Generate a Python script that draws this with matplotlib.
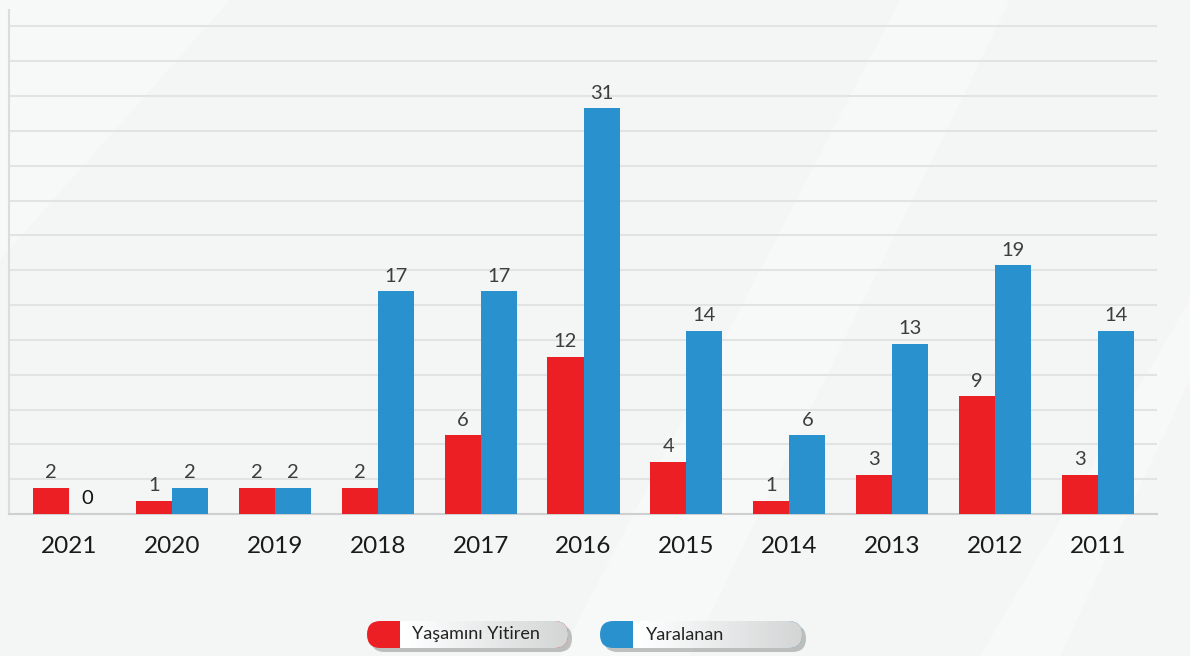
import numpy as np
import matplotlib
matplotlib.use("Agg")
import matplotlib.pyplot as plt
from matplotlib.patches import FancyBboxPatch, Polygon

plt.rcParams['font.family'] = ['Lato', 'DejaVu Sans']

years = ['2021', '2020', '2019', '2018', '2017', '2016', '2015', '2014', '2013', '2012', '2011']
dead = [2, 1, 2, 2, 6, 12, 4, 1, 3, 9, 3]
injured = [0, 2, 2, 17, 17, 31, 14, 6, 13, 19, 14]
legend_labels = ['Yaşamını Yitiren', 'Yaralanan']

red = '#ec2024'
blue = '#2a91cf'

W, H = 1190, 656
fig = plt.figure(figsize=(W / 100, H / 100), dpi=100)
fig.patch.set_facecolor('#f4f5f5')

# background layer in pixel coords
bg = fig.add_axes([0, 0, 1, 1], zorder=0)
bg.set_xlim(0, W)
bg.set_ylim(H, 0)
bg.axis('off')
bands = [
    [(0, 0), (230, 0), (0, 260)],
    [(560, 656), (900, 0), (1010, 0), (690, 656)],
    [(980, 656), (1190, 300), (1190, 380), (1060, 656)],
]
for b in bands:
    bg.add_patch(Polygon(b, closed=True, facecolor='white', alpha=0.3, lw=0))

# legend pills
def pill(x0, x1, y0, y1, color, label, tx):
    h = y1 - y0
    shadow = FancyBboxPatch((x0 + 4, y0 + 4), x1 - x0, h, boxstyle='round,pad=0,rounding_size=%g' % (h / 2),
                            facecolor='#555555', alpha=0.35, lw=0, zorder=1)
    bg.add_patch(shadow)
    body = FancyBboxPatch((x0, y0), x1 - x0, h, boxstyle='round,pad=0,rounding_size=%g' % (h / 2),
                          facecolor=color, lw=0, zorder=2)
    bg.add_patch(body)
    grad = np.linspace(1.0, 0.83, 64).reshape(1, -1)
    grad = np.dstack([grad, grad * 1.01, grad * 1.01]).clip(0, 1)
    im = bg.imshow(grad, extent=[x0 + 33, x1, y1, y0], aspect='auto', zorder=3, interpolation='bilinear')
    im.set_clip_path(body)
    bg.text(tx, (y0 + y1) / 2, label, fontsize=13, color='#222222', va='center', ha='left', zorder=4)

pill(367, 568, 621, 648, red, legend_labels[0], 412)
pill(600, 802, 621, 648, blue, legend_labels[1], 646)

# main chart
ax = fig.add_axes([9 / W, 1 - 514 / H, (1157 - 9) / W, (514 - 10) / H], zorder=2)
ax.patch.set_alpha(0)
x = np.arange(len(years))
w = 0.35
ax.bar(x - w / 2, dead, w, color=red, zorder=3)
ax.bar(x + w / 2, injured, w, color=blue, zorder=3)

for xi, v in zip(x, dead):
    ax.text(xi - w / 2, v + 0.5, str(v), ha='center', va='bottom', fontsize=14.5, color='#3d3d3d')
for xi, v in zip(x, injured):
    c = '#111111' if v == 0 else '#3d3d3d'
    ax.text(xi + w / 2, v + 0.5, str(v), ha='center', va='bottom', fontsize=14.5, color=c)

ax.set_xlim(-0.583, 10.573)
ax.set_ylim(0, 38.5)
for gy in np.arange(2.66, 38, 2.66):
    ax.axhline(gy, color='#e2e3e3', lw=1.5, zorder=1)

ax.set_xticks(x)
ax.set_xticklabels(years, fontsize=17.5, color='#1a1a1a')
ax.tick_params(axis='x', length=0, pad=16)
ax.set_yticks([])
for s in ['top', 'right']:
    ax.spines[s].set_visible(False)
ax.spines['left'].set_color('#dcdcdc')
ax.spines['left'].set_linewidth(1.5)
ax.spines['bottom'].set_color('#cfcfcf')
ax.spines['bottom'].set_linewidth(1.5)

fig.savefig('out.png', dpi=100, facecolor=fig.get_facecolor())
